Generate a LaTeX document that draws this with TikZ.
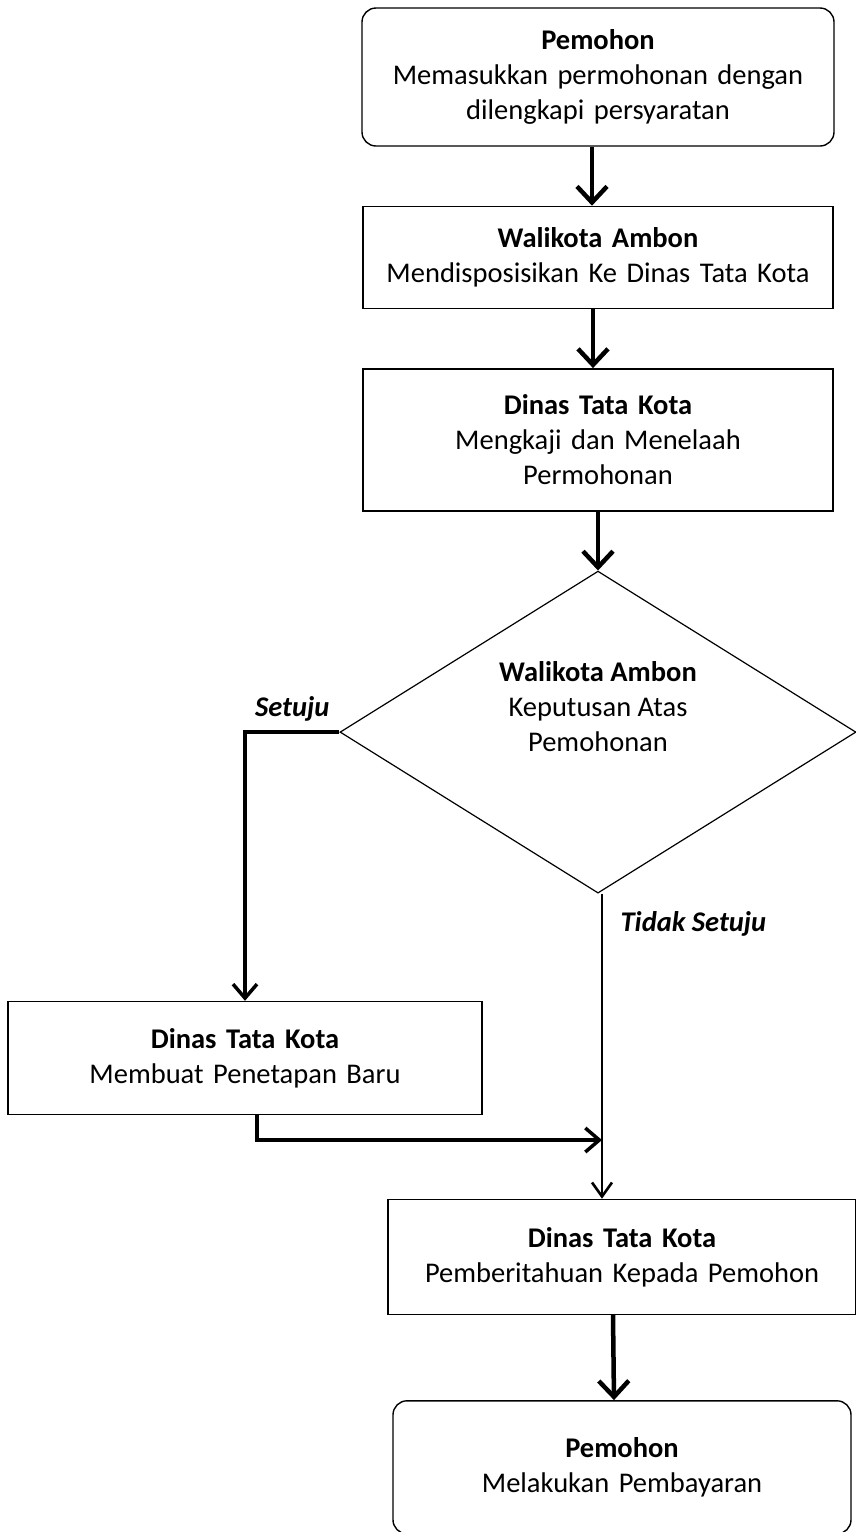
\documentclass[tikz,border=0pt]{standalone}
\usepackage{fontspec}
\setmainfont{Carlito}
\usetikzlibrary{positioning, chains, arrows.meta, shapes.geometric}

\tikzset{
   box/.style = {draw, line width=1.4pt, align=center, inner sep=0pt,
                 text width=#1, minimum height=102pt},
   box/.default = 470pt,
   roundbox/.style = {box=#1, rounded corners=14pt},
   roundbox/.default = 470pt,
   decision/.style = {draw, diamond, aspect=1.6, line width=1.2pt, align=center, inner sep=0pt,
                      minimum width=516pt, minimum height=322pt},
   flow/.style = {line width=4.5pt, -{Straight Barb[length=16pt, width=30pt]}},
   branch/.style = {line width=3.5pt, -{Straight Barb[length=14pt, width=24pt]}},
   slim/.style = {line width=2.6pt, -{Straight Barb[length=14pt, width=20pt]}},
   answer/.style = {font=\fontsize{28.5}{35}\selectfont\bfseries\itshape}
}

\begin{document}
\begin{tikzpicture}[x=1pt, y=-1pt,
   start chain = going below,
   node distance = 59pt,
   every node/.append style = {font=\fontsize{28.5}{35}\selectfont}]
   \useasboundingbox (0,0) rectangle (856,1532);
   \fill[white] (0,0) rectangle (856,1532);

   % main column
   \node[roundbox=472pt, minimum height=138pt, on chain] (start) at (598,77)
        {\textbf{Pemohon}\\Memasukkan permohonan dengan\\dilengkapi persyaratan};
   \node[box, on chain] (dispo)
        {\textbf{Walikota Ambon}\\Mendisposisikan Ke Dinas Tata Kota};
   \node[box, minimum height=142pt, below=63pt of dispo, on chain] (kaji)
        {\textbf{Dinas Tata Kota}\\Mengkaji dan Menelaah\\Permohonan};
   \node[decision, below=56pt of kaji, on chain] (dec)
        {\raisebox{19pt}[0pt][0pt]{\parbox{260pt}{\centering\textbf{Walikota Ambon}\\Keputusan Atas\\Pemohonan}}};

   % side branch and end
   \node[box=474pt, minimum height=113pt] (baru) at (245,1058)
        {\textbf{Dinas Tata Kota}\\Membuat Penetapan Baru};
   \node[box=468pt, minimum height=115pt, below=305pt of dec, xshift=24pt] (info)
        {\textbf{Dinas Tata Kota}\\Pemberitahuan Kepada Pemohon};
   \node[roundbox=458pt, minimum height=133pt, below=85pt of info] (bayar)
        {\textbf{Pemohon}\\Melakukan Pembayaran};

   \coordinate (join) at ([xshift=4pt]dec.south |- 0,1140);

   \draw[flow] ([xshift=-6pt]start.south) -- ([xshift=-6pt]dispo.north);
   \draw[flow] ([xshift=-5pt]dispo.south) -- ([xshift=-5pt]kaji.north);
   \draw[flow] (kaji.south) -- (dec.north);

   \draw[branch] (dec.west) -| node[answer, pos=0.25, above=6pt]{Setuju} (baru.north);
   \draw[slim] ([xshift=4pt]dec.south) -- node[answer, pos=0.1, right=14pt]{Tidak Setuju} ([xshift=4pt]dec.south |- info.north);
   \draw[branch] ([xshift=12pt]baru.south) |- (join);
   \draw[flow] ([xshift=-9pt]info.south) -- ([xshift=-8pt]bayar.north);
\end{tikzpicture}
\end{document}
